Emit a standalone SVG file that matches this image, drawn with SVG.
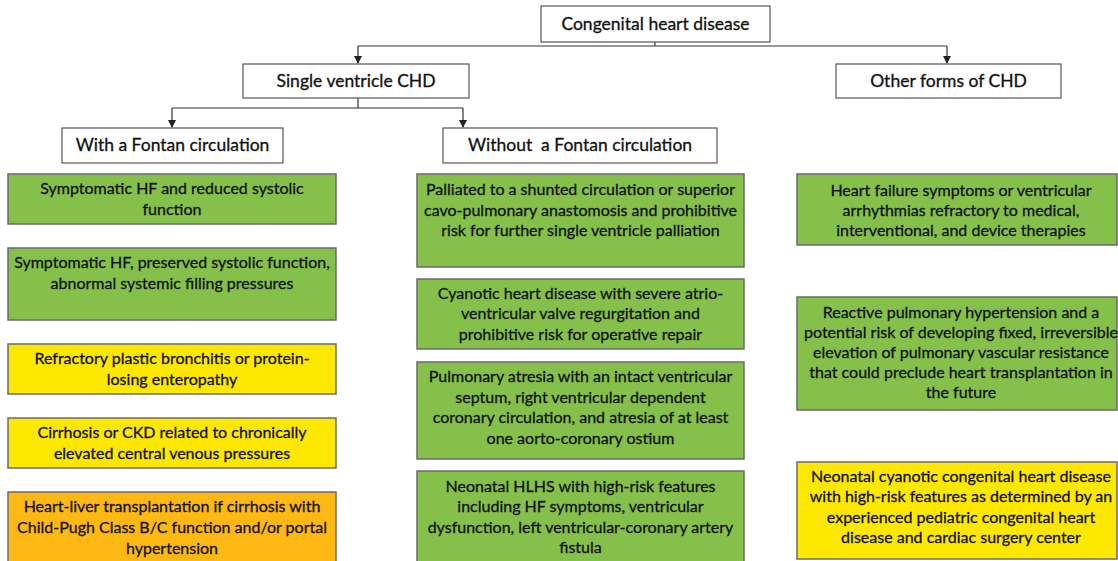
<svg xmlns="http://www.w3.org/2000/svg" width="1118" height="561" viewBox="0 0 1118 561">
<style>
.hdr{fill:#fff;stroke:#555;stroke-width:1.2}
.g{fill:#84C04A;stroke:#6b6b6b;stroke-width:1.5}
.y{fill:#FFE800;stroke:#6b6b6b;stroke-width:1.5}
.o{fill:#FDB813;stroke:#6b6b6b;stroke-width:1.5}
text{font-family:Lato,"Liberation Sans",sans-serif;fill:#111;text-anchor:middle;stroke:#111;stroke-width:0.3}
.ht{font-size:17.5px}
.bt{font-size:16px}
.ln{fill:none;stroke:#333;stroke-width:1.2}
</style>
<defs>
<marker id="a" markerWidth="8" markerHeight="8" refX="7" refY="4" orient="auto" markerUnits="userSpaceOnUse">
<path d="M0,0 L8,4 L0,8 z" fill="#222"/>
</marker>
</defs>
<g id="connectors">
<path class="ln" d="M655,42 V46 M358,46 H947"/>
<path class="ln" d="M358,46 V63" marker-end="url(#a)"/>
<path class="ln" d="M947,46 V63" marker-end="url(#a)"/>
<path class="ln" d="M358,98 V108 M172,108 H463"/>
<path class="ln" d="M172,108 V127" marker-end="url(#a)"/>
<path class="ln" d="M463,108 V127" marker-end="url(#a)"/>
</g>
<g id="n-chd"><rect class="hdr" x="541" y="6" width="229" height="36"/><text class="ht" x="655.5" y="30">Congenital heart disease</text></g>
<g id="n-single"><rect class="hdr" x="243" y="64" width="226" height="34"/><text class="ht" x="356" y="87">Single ventricle CHD</text></g>
<g id="n-other"><rect class="hdr" x="836" y="64" width="225" height="34"/><text class="ht" x="948.5" y="87">Other forms of CHD</text></g>
<g id="n-with"><rect class="hdr" x="62" y="128" width="221" height="35"/><text class="ht" x="172.5" y="151">With a Fontan circulation</text></g>
<g id="n-without"><rect class="hdr" x="443" y="128" width="274" height="35"/><text class="ht" x="580" y="151" xml:space="preserve">Without  a Fontan circulation</text></g>

<g id="l1"><rect class="g" x="8" y="174" width="328" height="50"/><text class="bt" x="172"><tspan x="172" y="194">Symptomatic HF and reduced systolic</tspan><tspan x="172" y="215">function</tspan></text></g>
<g id="l2"><rect class="g" x="8" y="248" width="328" height="72"/><text class="bt"><tspan x="172" y="268">Symptomatic HF, preserved systolic function,</tspan><tspan x="172" y="289">abnormal systemic filling pressures</tspan></text></g>
<g id="l3"><rect class="y" x="8" y="344" width="328" height="50"/><text class="bt"><tspan x="172" y="364">Refractory plastic bronchitis or protein-</tspan><tspan x="172" y="385">losing enteropathy</tspan></text></g>
<g id="l4"><rect class="y" x="8" y="418" width="328" height="50"/><text class="bt"><tspan x="172" y="438">Cirrhosis or CKD related to chronically</tspan><tspan x="172" y="459">elevated central venous pressures</tspan></text></g>
<g id="l5"><rect class="o" x="8" y="492" width="328" height="75"/><text class="bt"><tspan x="172" y="512">Heart-liver transplantation if cirrhosis with</tspan><tspan x="172" y="533">Child-Pugh Class B/C function and/or portal</tspan><tspan x="172" y="554">hypertension</tspan></text></g>

<g id="m1"><rect class="g" x="417" y="174" width="327" height="93"/><text class="bt"><tspan x="580.5" y="195">Palliated to a shunted circulation or superior</tspan><tspan x="580.5" y="216">cavo-pulmonary anastomosis and prohibitive</tspan><tspan x="580.5" y="236">risk for further single ventricle palliation</tspan></text></g>
<g id="m2"><rect class="g" x="417" y="279" width="327" height="70"/><text class="bt"><tspan x="580.5" y="299">Cyanotic heart disease with severe atrio-</tspan><tspan x="580.5" y="319">ventricular valve regurgitation and</tspan><tspan x="580.5" y="340">prohibitive risk for operative repair</tspan></text></g>
<g id="m3"><rect class="g" x="417" y="362" width="327" height="97"/><text class="bt"><tspan x="580.5" y="382">Pulmonary atresia with an intact ventricular</tspan><tspan x="580.5" y="403">septum, right ventricular dependent</tspan><tspan x="580.5" y="423">coronary circulation, and atresia of at least</tspan><tspan x="580.5" y="444">one aorto-coronary ostium</tspan></text></g>
<g id="m4"><rect class="g" x="417" y="471" width="327" height="96"/><text class="bt"><tspan x="580.5" y="492">Neonatal HLHS with high-risk features</tspan><tspan x="580.5" y="512">including HF symptoms, ventricular</tspan><tspan x="580.5" y="533">dysfunction, left ventricular-coronary artery</tspan><tspan x="580.5" y="553">fistula</tspan></text></g>

<g id="r1"><rect class="g" x="797" y="174" width="320" height="71"/><text class="bt"><tspan x="961" y="196">Heart failure symptoms or ventricular</tspan><tspan x="961" y="216">arrhythmias refractory to medical,</tspan><tspan x="961" y="236">interventional, and device therapies</tspan></text></g>
<g id="r2"><rect class="g" x="797" y="297" width="320" height="113"/><text class="bt"><tspan x="961" y="318">Reactive pulmonary hypertension and a</tspan><tspan x="961" y="338">potential risk of developing fixed, irreversible</tspan><tspan x="961" y="358">elevation of pulmonary vascular resistance</tspan><tspan x="961" y="378">that could preclude heart transplantation in</tspan><tspan x="961" y="398">the future</tspan></text></g>
<g id="r3"><rect class="y" x="797" y="462" width="320" height="97"/><text class="bt"><tspan x="961" y="482">Neonatal cyanotic congenital heart disease</tspan><tspan x="961" y="502">with high-risk features as determined by an</tspan><tspan x="961" y="523">experienced pediatric congenital heart</tspan><tspan x="961" y="543">disease and cardiac surgery center</tspan></text></g>
</svg>
